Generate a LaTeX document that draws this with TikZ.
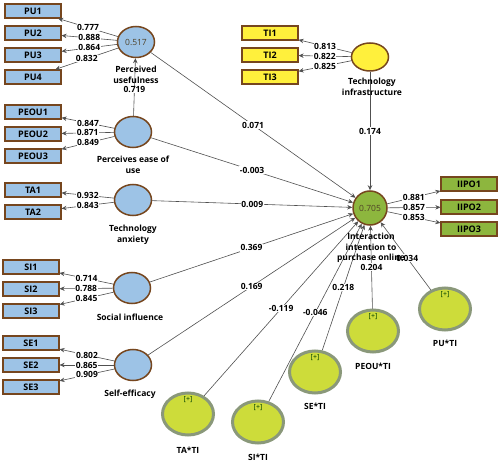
\documentclass[tikz,border=0pt]{standalone}
\usepackage{fontspec}
\setmainfont{Open Sans}
\usetikzlibrary{arrows.meta, shapes.geometric}

\definecolor{itemblue}{RGB}{157,195,230}
\definecolor{rimbrown}{RGB}{118,70,30}
\definecolor{tiyellow}{RGB}{255,240,60}
\definecolor{outgreen}{RGB}{141,182,62}
\definecolor{modfill}{RGB}{205,220,58}
\definecolor{modrim}{RGB}{138,152,122}
\definecolor{valtext}{RGB}{80,66,40}
\definecolor{linkgrey}{RGB}{80,80,80}

\begin{document}
\begin{tikzpicture}[x=1pt, y=-1pt,
    every node/.style={font=\bfseries\fontsize{8.5}{10.5}\selectfont},
    item/.style={draw=rimbrown, line width=1.2pt, minimum width=56pt, minimum height=14pt, inner sep=0pt, font=\bfseries\fontsize{9}{10}\selectfont},
    latent/.style={ellipse, draw=rimbrown, line width=1.5pt, minimum width=37pt, minimum height=31pt, inner sep=0pt, font=\fontsize{8.5}{10}\selectfont, text=valtext},
    moder/.style={ellipse, draw=modrim, line width=3pt, fill=modfill, minimum width=51pt, minimum height=42pt, inner sep=0pt},
    tag/.style={font=\fontsize{7}{8}\selectfont, text=black!75!green, inner sep=0pt},
    caption/.style={align=center, inner sep=0pt},
    link/.style={-{Stealth[length=5pt,width=4.5pt]}, linkgrey, line width=0.6pt},
    coef/.style={fill=white, inner sep=0.6pt, text=black}]
    \useasboundingbox (0,0) rectangle (500,462);

    % indicators
    \node[item, fill=itemblue] (pu1) at (33,11) {PU1};
    \node[item, fill=itemblue] (pu2) at (33,33) {PU2};
    \node[item, fill=itemblue] (pu3) at (33,55) {PU3};
    \node[item, fill=itemblue] (pu4) at (33,77) {PU4};
    \node[item, fill=itemblue] (peou1) at (33,112) {PEOU1};
    \node[item, fill=itemblue] (peou2) at (33,134) {PEOU2};
    \node[item, fill=itemblue] (peou3) at (33,156) {PEOU3};
    \node[item, fill=itemblue] (ta1) at (33,190) {TA1};
    \node[item, fill=itemblue] (ta2) at (33,212) {TA2};
    \node[item, fill=itemblue] (si1) at (31,267) {SI1};
    \node[item, fill=itemblue] (si2) at (31,289) {SI2};
    \node[item, fill=itemblue] (si3) at (31,311) {SI3};
    \node[item, fill=itemblue] (se1) at (31,343) {SE1};
    \node[item, fill=itemblue] (se2) at (31,365) {SE2};
    \node[item, fill=itemblue] (se3) at (31,387) {SE3};
    \node[item, fill=tiyellow] (ti1) at (270,33) {TI1};
    \node[item, fill=tiyellow] (ti2) at (270,55) {TI2};
    \node[item, fill=tiyellow] (ti3) at (270,77) {TI3};
    \node[item, fill=outgreen] (iipo1) at (469,184) {IIPO1};
    \node[item, fill=outgreen] (iipo2) at (469,207) {IIPO2};
    \node[item, fill=outgreen] (iipo3) at (469,229) {IIPO3};

    % constructs
    \node[latent, fill=itemblue] (pu) at (136,42) {0.517};
    \node[latent, fill=itemblue] (peou) at (133,132) {};
    \node[latent, fill=itemblue] (ta) at (133,200) {};
    \node[latent, fill=itemblue] (si) at (132,288) {};
    \node[latent, fill=itemblue] (se) at (133,365) {};
    \node[latent, fill=tiyellow, minimum height=28pt] (ti) at (370,57) {};
    \node[latent, fill=outgreen, minimum width=34pt, minimum height=34pt] (intent) at (370,208) {0.705};

    % moderating terms
    \node[moder] (tati) at (188,414) {};
    \node[moder] (siti) at (258,422) {};
    \node[moder] (seti) at (315,372) {};
    \node[moder] (peouti) at (373,331) {};
    \node[moder] (puti) at (445,309) {};
    \foreach \m in {tati, siti, seti, peouti, puti}
        \node[tag, below=5pt] (\m-tag) at (\m.north) {[+]};

    % outer loadings
    \draw[link] (pu) -- (pu1) node[coef, midway] {0.777};
    \draw[link] (pu) -- (pu2) node[coef, midway] {0.888};
    \draw[link] (pu) -- (pu3) node[coef, midway] {0.864};
    \draw[link] (pu) -- (pu4) node[coef, midway] {0.832};
    \draw[link] (peou) -- (peou1) node[coef, midway] {0.847};
    \draw[link] (peou) -- (peou2) node[coef, midway] {0.871};
    \draw[link] (peou) -- (peou3) node[coef, midway] {0.849};
    \draw[link] (ta) -- (ta1) node[coef, midway] {0.932};
    \draw[link] (ta) -- (ta2) node[coef, midway] {0.843};
    \draw[link] (si) -- (si1) node[coef, midway] {0.714};
    \draw[link] (si) -- (si2) node[coef, midway] {0.788};
    \draw[link] (si) -- (si3) node[coef, midway] {0.845};
    \draw[link] (se) -- (se1) node[coef, midway] {0.802};
    \draw[link] (se) -- (se2) node[coef, midway] {0.865};
    \draw[link] (se) -- (se3) node[coef, midway] {0.909};
    \draw[link] (ti) -- (ti1) node[coef, midway] {0.813};
    \draw[link] (ti) -- (ti2) node[coef, midway] {0.822};
    \draw[link] (ti) -- (ti3) node[coef, midway] {0.825};
    \draw[link] (intent) -- (iipo1) node[coef, midway] {0.881};
    \draw[link] (intent) -- (iipo2) node[coef, midway] {0.857};
    \draw[link] (intent) -- (iipo3) node[coef, midway] {0.853};

    % path coefficients
    \draw[link] (peou) -- (pu) node[coef, pos=0.46] {0.719};
    \draw[link] (pu) -- (intent) node[coef, midway] {0.071};
    \draw[link] (peou) -- (intent) node[coef, midway] {-0.003};
    \draw[link] (ta) -- (intent) node[coef, midway] {0.009};
    \draw[link] (si) -- (intent) node[coef, midway] {0.369};
    \draw[link] (se) -- (intent) node[coef, midway] {0.169};
    \draw[link] (ti) -- (intent) node[coef, midway] {0.174};
    \draw[link] (tati) -- (intent) node[coef, midway] {-0.119};
    \draw[link] (siti) -- (intent) node[coef, midway] {-0.046};
    \draw[link] (seti) -- (intent) node[coef, midway] {0.218};
    \draw[link] (peouti) -- (intent) node[coef, midway] {0.204};
    \draw[link] (puti) -- (intent) node[coef, pos=0.47] {0.034};

    % construct names
    \node[caption] (pu-name) at (136,75) {Perceived\\usefulness};
    \node[caption] (peou-name) at (133,165) {Perceives ease of\\use};
    \node[caption] (ta-name) at (133,235) {Technology\\anxiety};
    \node[caption] (si-name) at (130,317) {Social influence};
    \node[caption] (se-name) at (130,394) {Self-efficacy};
    \node[caption] (ti-name) at (372,87) {Technology\\infrastructure};
    \node[caption] (intent-name) at (371,248) {Interaction\\intention to\\purchase online};
    \node[caption] (tati-name) at (188,450) {TA*TI};
    \node[caption] (siti-name) at (258,457) {SI*TI};
    \node[caption] (seti-name) at (315,406) {SE*TI};
    \node[caption] (peouti-name) at (373,366) {PEOU*TI};
    \node[caption] (puti-name) at (445,343) {PU*TI};
\end{tikzpicture}
\end{document}
